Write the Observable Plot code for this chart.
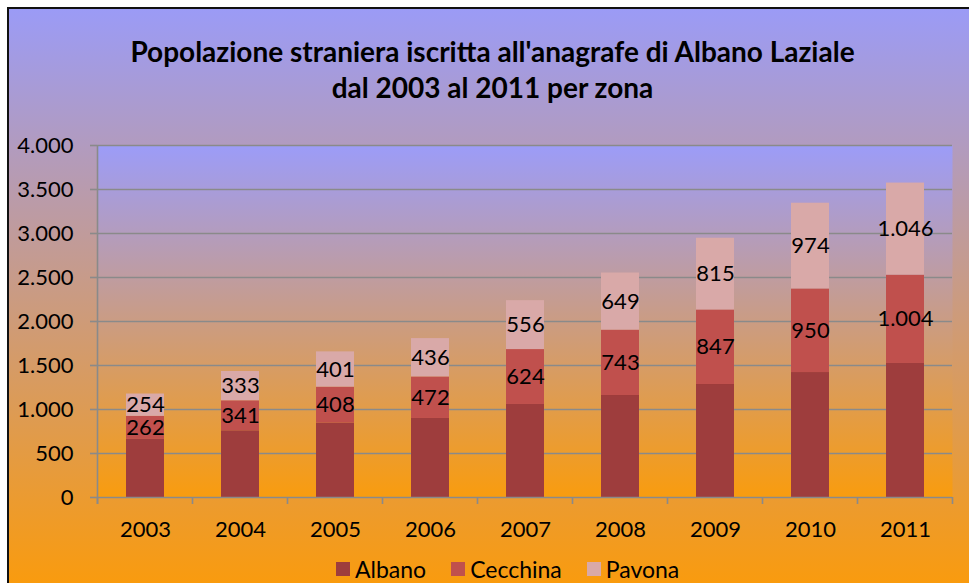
<!DOCTYPE html>
<html>
<head>
<meta charset="utf-8">
<script src="https://cdn.jsdelivr.net/npm/d3@7"></script>
<script src="https://cdn.jsdelivr.net/npm/@observablehq/plot@0.6"></script>
<style>
  html, body { margin: 0; padding: 0; background: #fff; }
  #page { position: absolute; left: 0; top: 0; width: 969px; height: 583px; overflow: hidden; background: #fff; font-family: Lato, "Open Sans", sans-serif; }
  #chartbg { position: absolute; left: 7px; top: 7px; width: 1000px; height: 580px; border-left: 2px solid #111; border-top: 2px solid #111;
    background: linear-gradient(to bottom, #9b9bf6 0%, #fa9b0c 100%); }
  #title { position: absolute; left: 0; width: 985px; top: 33px; text-align: center; font-weight: bold; font-size: 28px; line-height: 36px; color: #000; }
  #plot { position: absolute; left: 0; top: 120px; }
  #legend { position: absolute; left: 336px; top: 555px; display: flex; align-items: center; font-size: 23px; color: #000; }
  #legend .item { display: flex; align-items: center; margin-right: 25px; }
  #legend .sw { width: 14px; height: 14px; margin-right: 5px; }
</style>
</head>
<body>
<div id="page">
  <div id="chartbg"></div>
  <div id="title">Popolazione straniera iscritta all'anagrafe di Albano Laziale<br>dal 2003 al 2011 per zona</div>
  <div id="plot"></div>
  <div id="legend"></div>
</div>
<script>
const years = ["2003", "2004", "2005", "2006", "2007", "2008", "2009", "2010", "2011"];
const zones = ["Albano", "Cecchina", "Pavona"];
const albano   = [660, 758, 846, 898, 1057, 1159, 1284, 1420, 1523];
const cecchina = [262, 341, 408, 472, 624, 743, 847, 950, 1004];
const pavona   = [254, 333, 401, 436, 556, 649, 815, 974, 1046];
const yTicks = [0, 500, 1000, 1500, 2000, 2500, 3000, 3500, 4000];
const colors = ["#9e3d3d", "#c0504d", "#d9a9a8"];

const series = [albano, cecchina, pavona];
const data = [];
zones.forEach((z, zi) => years.forEach((y, i) => data.push({year: y, zone: z, value: series[zi][i]})));

const itLocale = d3.formatLocale({decimal: ",", thousands: ".", grouping: [3], currency: ["€", ""]});
const fmt = itLocale.format(",d");

const plot = Plot.plot({
  width: 969,
  height: 430,
  marginLeft: 97,
  marginRight: 17,
  marginTop: 25,
  marginBottom: 53,
  style: {background: "transparent", fontFamily: "Lato, 'Open Sans', sans-serif", fontSize: "22px", color: "#000", overflow: "visible"},
  x: {domain: years, paddingInner: 0.6, paddingOuter: 0.3, label: null, axis: null},
  y: {domain: [0, 4000], label: null, axis: null},
  color: {domain: zones, range: colors},
  marks: [
    Plot.frame({fill: "url(#plotGrad)", stroke: null}),
    Plot.gridY(yTicks.slice(1), {stroke: "#8a8a8a", strokeOpacity: 1, strokeWidth: 1.6}),
    Plot.axisY(yTicks, {tickSize: 7, tickPadding: 17, tickFormat: fmt, stroke: "#8a8a8a", strokeWidth: 1.6, fill: "#000", fontSize: 22}),
    Plot.axisX({tickSize: 0, tickPadding: 24, fill: "#000", fontSize: 22}),
    Plot.barY(data, {x: "year", y: "value", fill: "zone"}),
    Plot.ruleY([0], {stroke: "#8a8a8a", strokeWidth: 1.6}),
    Plot.text(data, Plot.stackY({x: "year", y: "value", z: "zone", text: d => d.zone === "Albano" ? "" : fmt(d.value), fill: "#000", fontSize: 22}))
  ]
});

// gradient for the plot area
const ns = "http://www.w3.org/2000/svg";
const defs = document.createElementNS(ns, "defs");
defs.innerHTML = '<linearGradient id="plotGrad" x1="0" y1="0" x2="0" y2="1"><stop offset="0" stop-color="#9c9cf8"/><stop offset="1" stop-color="#f99c0e"/></linearGradient>';
plot.insertBefore(defs, plot.firstChild);

// axis line and category-boundary ticks, positioned with Plot's scales
const xs = plot.scale("x"), ys = plot.scale("y");
const gap = (xs.step - xs.bandwidth) / 2;
const bounds = years.map(y => xs.apply(y) - gap);
bounds.push(xs.apply(years[years.length - 1]) + xs.bandwidth + gap);
const g = d3.select(plot).append("g").attr("stroke", "#8a8a8a").attr("stroke-width", 1.6);
const y0 = ys.apply(0), yTop = ys.apply(4000);
g.append("line").attr("x1", bounds[0]).attr("x2", bounds[0]).attr("y1", yTop).attr("y2", y0 + 7);
bounds.forEach(b => g.append("line").attr("x1", b).attr("x2", b).attr("y1", y0).attr("y2", y0 + 7));

document.getElementById("plot").appendChild(plot);

// legend
const leg = document.getElementById("legend");
zones.forEach((z, i) => {
  const it = document.createElement("div");
  it.className = "item";
  it.innerHTML = `<span class="sw" style="background:${colors[i]}"></span><span>${z}</span>`;
  leg.appendChild(it);
});
</script>
</body>
</html>
